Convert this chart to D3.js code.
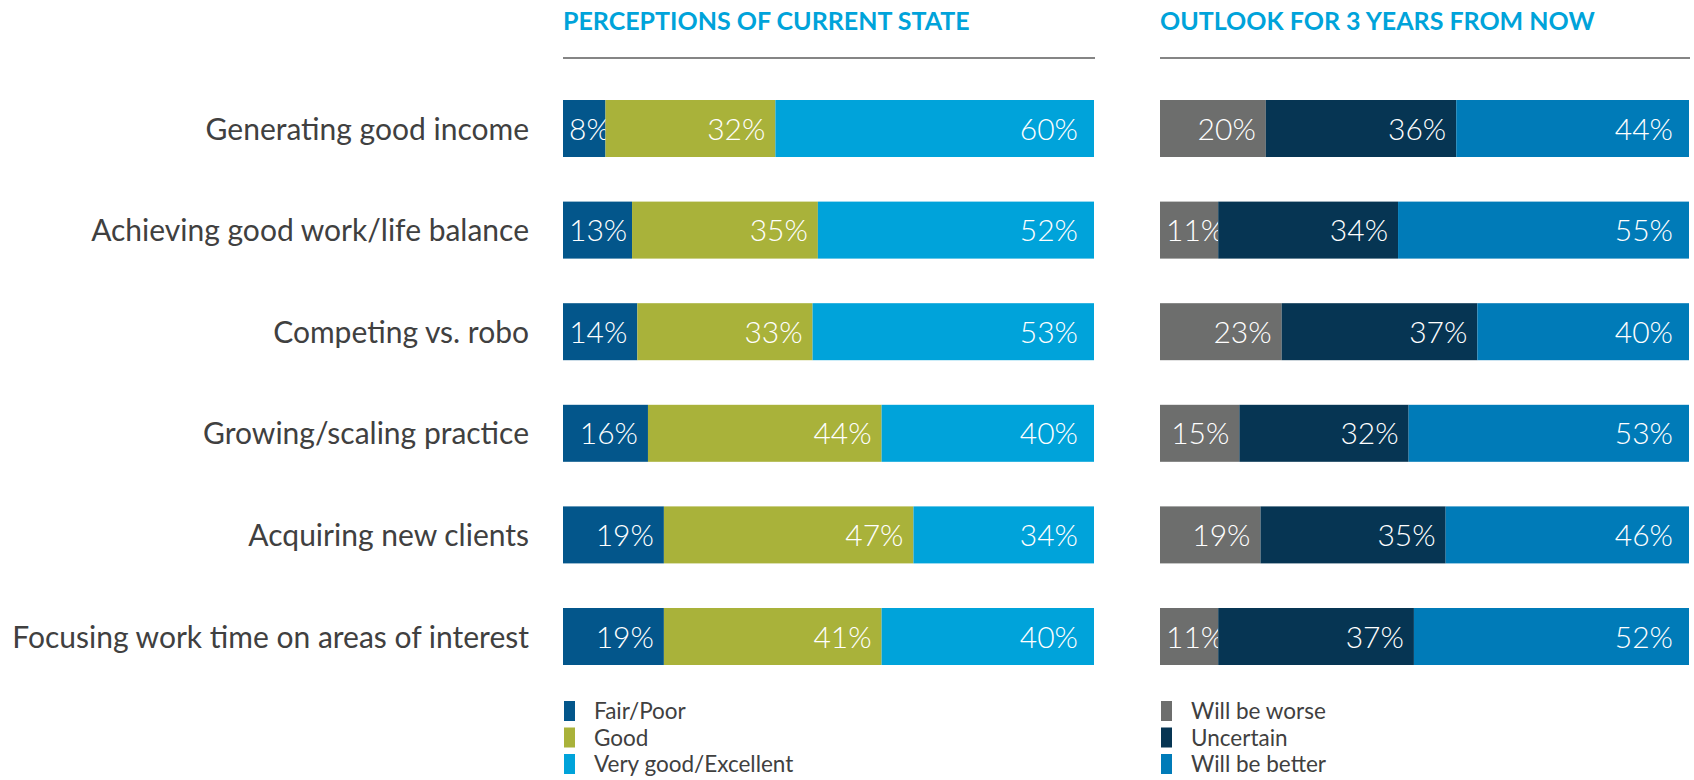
<!DOCTYPE html>
<html>
<head>
<meta charset="utf-8">
<script src="https://cdn.jsdelivr.net/npm/d3@7"></script>
<style>
  html, body { margin: 0; padding: 0; background: #fff; }
  svg { display: block; }
</style>
</head>
<body>
<svg id="chart" width="1694" height="780"></svg>
<script>
// ---- data ----
const categories = [
  "Generating good income",
  "Achieving good work/life balance",
  "Competing vs. robo",
  "Growing/scaling practice",
  "Acquiring new clients",
  "Focusing work time on areas of interest"
];
const currentSeries = ["Fair/Poor", "Good", "Very good/Excellent"];
const fairPoor      = [8, 13, 14, 16, 19, 19];
const good          = [32, 35, 33, 44, 47, 41];
const veryGood      = [60, 52, 53, 40, 34, 40];

const outlookSeries = ["Will be worse", "Uncertain", "Will be better"];
const willBeWorse   = [20, 11, 23, 15, 19, 11];
const uncertain     = [36, 34, 37, 32, 35, 37];
const willBeBetter  = [44, 55, 40, 53, 46, 52];

const panelTitles = ["PERCEPTIONS OF CURRENT STATE", "OUTLOOK FOR 3 YEARS FROM NOW"];

// ---- styles ----
const currentColors = ["#03568b", "#a9b23a", "#00a3da"];
const outlookColors = ["#6d6e6d", "#063553", "#007bb8"];
const FONT = "Lato, 'Open Sans', sans-serif";

const svg = d3.select("#chart");

const step = 101.6, bw = 57, firstTop = 100;
const pIn = 1 - bw / step;
const y = d3.scaleBand()
  .domain(categories)
  .range([firstTop - (step - bw) / 2, firstTop - (step - bw) / 2 + categories.length * step])
  .paddingInner(pIn)
  .paddingOuter(pIn / 2);

// row labels
svg.append("g").selectAll("text")
  .data(categories)
  .join("text")
  .attr("x", 529)
  .attr("y", d => y(d) + y.bandwidth() / 2 + 11)
  .attr("text-anchor", "end")
  .attr("font-family", FONT)
  .attr("font-size", 30)
  .attr("fill", "#404040")
  .text(d => d);

function drawPanel(x0, x1, title, seriesNames, seriesValues, colors) {
  const x = d3.scaleLinear().domain([0, 100]).range([x0, x1]);
  const g = svg.append("g");

  g.append("text")
    .attr("x", x0)
    .attr("y", 30)
    .attr("font-family", FONT)
    .attr("font-weight", 700)
    .attr("font-size", 25)
    .attr("fill", "#00a3da")
    .text(title);

  g.append("line")
    .attr("x1", x0).attr("x2", x1 + 1)
    .attr("y1", 58).attr("y2", 58)
    .attr("stroke", "#858585")
    .attr("stroke-width", 2);

  const stack = d3.stack().keys(d3.range(seriesNames.length))
    .value((d, k) => seriesValues[k][d]);
  const stacked = stack(d3.range(categories.length));

  stacked.forEach((layer, k) => {
    const lg = g.append("g");
    lg.selectAll("rect")
      .data(layer)
      .join("rect")
      .attr("x", d => x(d[0]))
      .attr("width", d => x(d[1]) - x(d[0]))
      .attr("y", (d, i) => y(categories[i]))
      .attr("height", y.bandwidth())
      .attr("fill", colors[k]);

    const isLast = k === seriesNames.length - 1;
    lg.selectAll("text")
      .data(layer)
      .join("text")
      .attr("y", (d, i) => y(categories[i]) + y.bandwidth() / 2 + 11)
      .attr("font-family", FONT)
      .attr("font-weight", 300)
      .attr("font-size", 30)
      .attr("fill", "#ffffff")
      .attr("text-anchor", "end")
      .text(d => (d[1] - d[0]) + "%")
      .each(function(d) {
        const w = this.getComputedTextLength();
        let end = x(d[1]) - (isLast ? 16 : 10);
        if (end - w < x0 + 6) end = x0 + 6 + w;
        d3.select(this).attr("x", end);
      });
  });

  // legend
  const lgY = 701, lgStep = 26.5;
  const leg = g.append("g");
  seriesNames.forEach((name, k) => {
    leg.append("rect")
      .attr("x", x0 + 1)
      .attr("y", lgY + k * lgStep)
      .attr("width", 11)
      .attr("height", 20)
      .attr("fill", colors[k]);
    leg.append("text")
      .attr("x", x0 + 31)
      .attr("y", lgY + k * lgStep + 18)
      .attr("font-family", FONT)
      .attr("font-size", 22.5)
      .attr("fill", "#404040")
      .text(name);
  });
}

drawPanel(563, 1094, panelTitles[0], currentSeries, [fairPoor, good, veryGood], currentColors);
drawPanel(1160, 1689, panelTitles[1], outlookSeries, [willBeWorse, uncertain, willBeBetter], outlookColors);
</script>
</body>
</html>
